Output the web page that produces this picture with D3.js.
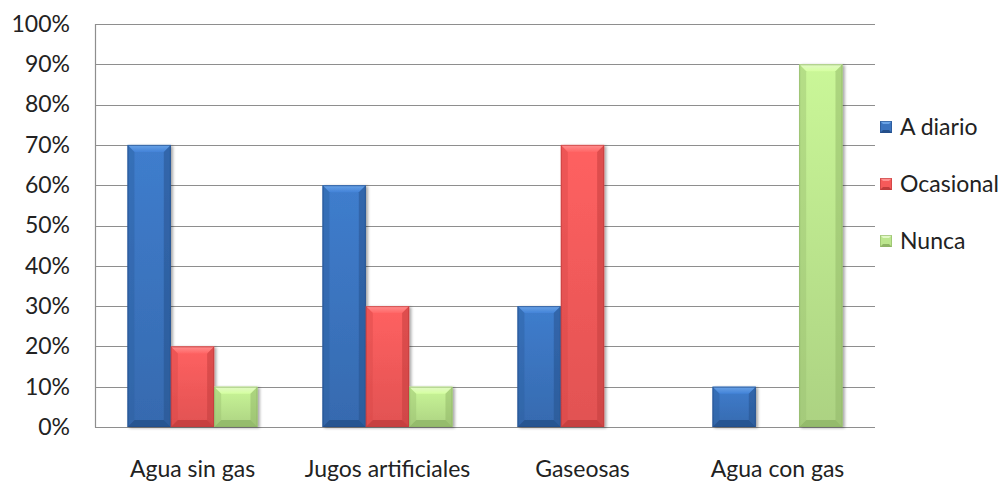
<!DOCTYPE html>
<html>
<head>
<meta charset="utf-8">
<script src="https://cdn.jsdelivr.net/npm/d3@7"></script>
<style>
  html, body { margin: 0; padding: 0; background: #fff; }
  svg { display: block; font-family: Lato, "Open Sans", sans-serif; }
</style>
</head>
<body>
<svg id="chart" width="1008" height="481"></svg>
<script>
// Beverage consumption frequency per drink type
const categories = ["Agua sin gas", "Jugos artificiales", "Gaseosas", "Agua con gas"];
const seriesNames = ["A diario", "Ocasional", "Nunca"];
const aDiario   = [70, 60, 30, 10];
const ocasional = [20, 30, 70, 0];
const nunca     = [10, 10, 0, 90];
const yTicks = [0, 10, 20, 30, 40, 50, 60, 70, 80, 90, 100];

const seriesValues = [aDiario, ocasional, nunca];
const palette = [
  { base: "#3b74bf", light: "#6aa3e6", dark: "#244f8a", edge: "#2d5f9f" },
  { base: "#f65a5a", light: "#ff9090", dark: "#c03c3c", edge: "#d94a4a" },
  { base: "#bce68e", light: "#e2f8c6", dark: "#8fb566", edge: "#9cc272" }
];
const fontSize = 23;

const svg = d3.select("#chart");
const plot = { left: 95, right: 875, top: 24, bottom: 427 };

const x0 = d3.scaleBand().domain(categories)
  .range([plot.left, plot.right]).paddingInner(1/3).paddingOuter(1/6);
const x1 = d3.scaleBand().domain(seriesNames).range([0, x0.bandwidth()]);
const y = d3.scaleLinear().domain([0, 100]).range([plot.bottom, plot.top]);

// gradients for the bar faces
const defs = svg.append("defs");
palette.forEach((c, i) => {
  const g = defs.append("linearGradient").attr("id", "face" + i)
    .attr("x1", 0).attr("x2", 0).attr("y1", 0).attr("y2", 1);
  g.append("stop").attr("offset", "0%").attr("stop-color", d3.color(c.base).brighter(0.2));
  g.append("stop").attr("offset", "100%").attr("stop-color", d3.color(c.base).darker(0.25));
  const t = defs.append("linearGradient").attr("id", "top" + i)
    .attr("x1", 0).attr("x2", 0).attr("y1", 0).attr("y2", 1);
  t.append("stop").attr("offset", "0%").attr("stop-color", c.light);
  t.append("stop").attr("offset", "100%").attr("stop-color", d3.color(c.base).brighter(0.35));
});
const sh = defs.append("filter").attr("id", "shadow")
  .attr("x", "-20%").attr("y", "-5%").attr("width", "140%").attr("height", "115%");
sh.append("feGaussianBlur").attr("in", "SourceAlpha").attr("stdDeviation", 1.5);
sh.append("feOffset").attr("dx", 2).attr("dy", 1).attr("result", "ob");
sh.append("feComponentTransfer").append("feFuncA").attr("type", "linear").attr("slope", 0.35);
const merge = sh.append("feMerge");
merge.append("feMergeNode");
merge.append("feMergeNode").attr("in", "SourceGraphic");

// gridlines
svg.append("g").selectAll("line").data(yTicks).join("line")
  .attr("x1", plot.left).attr("x2", plot.right)
  .attr("y1", d => Math.round(y(d)) + 0.5).attr("y2", d => Math.round(y(d)) + 0.5)
  .attr("stroke", "#8e8e8e").attr("stroke-width", 1.2);

// left axis line
svg.append("line")
  .attr("x1", plot.left + 0.5).attr("x2", plot.left + 0.5)
  .attr("y1", y(100)).attr("y2", y(0) + 0.5)
  .attr("stroke", "#8e8e8e").attr("stroke-width", 1.2);

// y tick labels
const yAxis = d3.axisLeft(y).tickValues(yTicks).tickFormat(d => d + "%").tickSize(0).tickPadding(25);
const ya = svg.append("g").attr("transform", `translate(${plot.left},0)`).call(yAxis);
ya.select(".domain").remove();
ya.selectAll("text").attr("font-size", fontSize).attr("fill", "#222").attr("font-family", "Lato, sans-serif");

// x category labels
const xAxis = d3.axisBottom(x0).tickSize(0).tickPadding(34);
const xa = svg.append("g").attr("transform", `translate(0,${plot.bottom})`).call(xAxis);
xa.select(".domain").remove();
xa.selectAll("text").attr("font-size", fontSize).attr("fill", "#222").attr("font-family", "Lato, sans-serif");

// bevelled bar shape
function drawBar(g, x, w, v, ci) {
  if (v <= 0) return;
  const c = palette[ci];
  const top = y(v), bot = y(0);
  const h = bot - top;
  const b = Math.min(7, h / 2, w / 2);
  const bar = g.append("g").attr("filter", "url(#shadow)");
  bar.append("rect").attr("x", x).attr("y", top).attr("width", w).attr("height", h)
    .attr("fill", `url(#face${ci})`);
  // top bevel
  bar.append("polygon").attr("points", [[x, top], [x + w, top], [x + w - b, top + b], [x + b, top + b]].join(" "))
    .attr("fill", `url(#top${ci})`);
  // left bevel
  bar.append("polygon").attr("points", [[x, top], [x + b, top + b], [x + b, bot - b], [x, bot]].join(" "))
    .attr("fill", c.edge).attr("opacity", 0.45);
  // right bevel
  bar.append("polygon").attr("points", [[x + w, top], [x + w - b, top + b], [x + w - b, bot - b], [x + w, bot]].join(" "))
    .attr("fill", c.dark).attr("opacity", 0.5);
  // bottom bevel
  bar.append("polygon").attr("points", [[x, bot], [x + b, bot - b], [x + w - b, bot - b], [x + w, bot]].join(" "))
    .attr("fill", c.dark).attr("opacity", 0.8);
  bar.append("rect").attr("x", x + 0.5).attr("y", top + 0.5).attr("width", w - 1).attr("height", h - 1)
    .attr("fill", "none").attr("stroke", c.dark).attr("stroke-width", 1).attr("opacity", 0.7);
}

const barsG = svg.append("g");
categories.forEach((cat, i) => {
  seriesNames.forEach((s, si) => {
    drawBar(barsG, x0(cat) + x1(s), x1.bandwidth(), seriesValues[si][i], si);
  });
});

// legend
const legendY = d3.scalePoint().domain(seriesNames).range([127, 241]);
const lg = svg.append("g");
seriesNames.forEach((s, si) => {
  const cy = legendY(s);
  const c = palette[si];
  const sq = lg.append("g");
  sq.append("rect").attr("x", 880).attr("y", cy - 6).attr("width", 12).attr("height", 12).attr("fill", c.base);
  sq.append("polygon").attr("points", [[880, cy - 6], [892, cy - 6], [889, cy - 3], [883, cy - 3]].join(" ")).attr("fill", c.light);
  sq.append("polygon").attr("points", [[880, cy + 6], [892, cy + 6], [889, cy + 3], [883, cy + 3]].join(" ")).attr("fill", c.dark);
  sq.append("rect").attr("x", 880.5).attr("y", cy - 5.5).attr("width", 11).attr("height", 11).attr("fill", "none").attr("stroke", c.dark).attr("opacity", 0.6);
  lg.append("text").attr("x", 900).attr("y", cy).attr("dy", "0.35em")
    .attr("font-size", fontSize).attr("fill", "#222").text(s);
});
</script>
</body>
</html>
